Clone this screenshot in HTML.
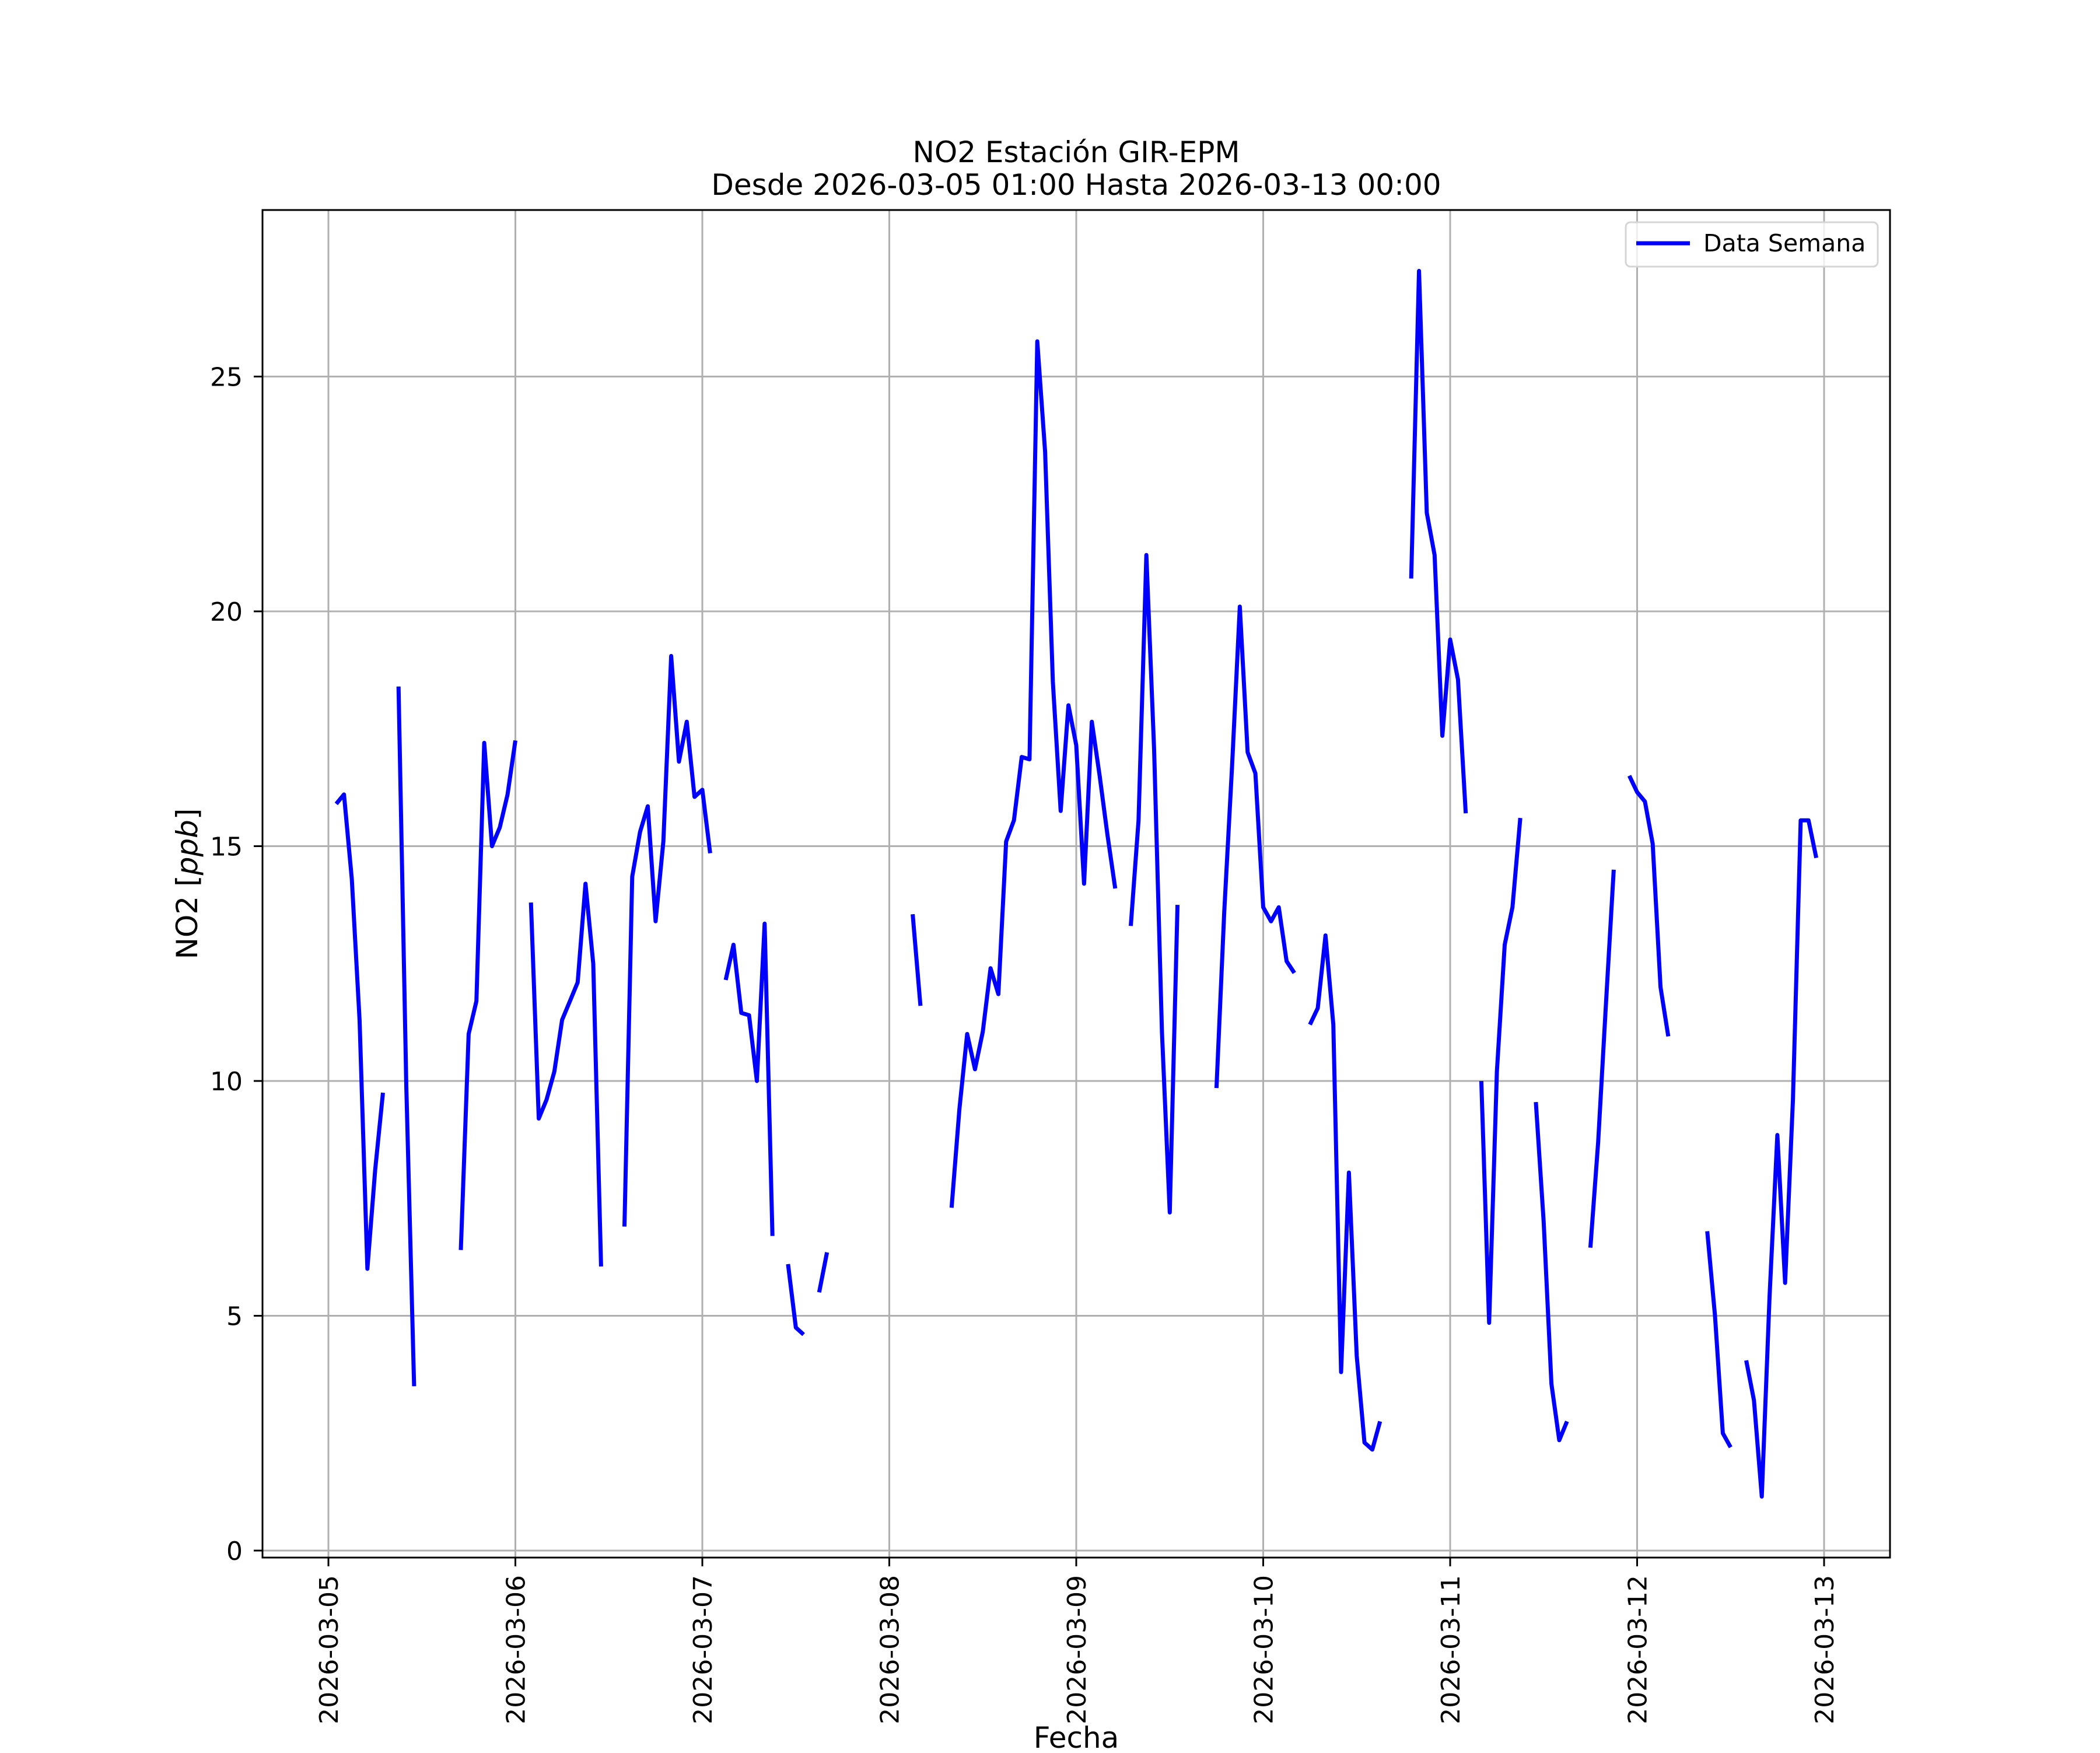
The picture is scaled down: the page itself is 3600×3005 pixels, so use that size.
<!DOCTYPE html>
<html><head><meta charset="utf-8"><style>
html,body{margin:0;padding:0;background:#fff}
svg text{font-family:"DejaVu Sans","Liberation Sans",sans-serif}
</style></head><body>
<svg id="chart" xmlns="http://www.w3.org/2000/svg" width="3600" height="3000" viewBox="0 0 3600 3000">
<rect width="3600" height="3000" fill="#fff"/>
<g id="grid"></g>
<g id="series"></g>
<rect x="450" y="360" width="2790" height="2310" fill="none" stroke="#000" stroke-width="3"/>
<g id="ticks"></g>
<text x="1845" y="278" font-size="50" text-anchor="middle">NO2 Estación GIR-EPM</text>
<text x="1845" y="334" font-size="50" text-anchor="middle">Desde 2026-03-05 01:00 Hasta 2026-03-13 00:00</text>
<text transform="translate(338,1515) rotate(-90)" font-size="50" text-anchor="middle">NO2 [<tspan font-style="italic">ppb</tspan>]</text>
<text x="1845" y="2996" font-size="50" text-anchor="middle">Fecha</text>
<g>
<rect x="2787" y="381" width="432" height="76" rx="8" fill="#fff" fill-opacity="0.8" stroke="#d5d5d5" stroke-width="3"/>
<line x1="2805" y1="417" x2="2897" y2="417" stroke="#0000ff" stroke-width="7"/>
<text x="2920" y="431" font-size="41">Data Semana</text>
</g>
</svg>
<script>
const yTicks = [0, 5, 10, 15, 20, 25];
const xTickLabels = ["2026-03-05","2026-03-06","2026-03-07","2026-03-08","2026-03-09","2026-03-10","2026-03-11","2026-03-12","2026-03-13"];
// hourly values, hour 1 = 2026-03-05 01:00 ... hour 192 = 2026-03-13 00:00 ; null = missing
const no2Values = [
15.9,16.1,14.3,11.3,6.0,8.1,9.75,null,18.4,9.9,3.5,null,null,null,null,null,
6.4,11.0,11.7,17.2,15.0,15.4,16.1,17.25,null,13.8,9.2,9.6,10.2,11.3,11.7,12.1,
14.2,12.5,6.05,null,null,6.9,14.35,15.3,15.85,13.4,15.1,19.05,16.8,17.65,16.05,16.2,
14.85,null,12.15,12.9,11.45,11.4,10.0,13.35,6.7,null,6.1,4.75,4.6,null,5.5,6.35,
null,null,null,null,null,null,null,null,null,null,13.55,11.6,null,null,null,7.3,
9.4,11.0,10.25,11.05,12.4,11.85,15.1,15.55,16.9,16.85,25.75,23.4,18.5,15.75,18.0,17.15,
14.2,17.65,16.5,15.25,14.1,null,13.3,15.55,21.2,17.05,11.05,7.2,13.75,null,null,null,
null,9.85,13.6,16.7,20.1,17.0,16.55,13.7,13.4,13.7,12.55,12.3,null,11.2,11.55,13.1,
11.2,3.8,8.05,4.15,2.3,2.15,2.75,null,null,null,20.7,27.25,22.1,21.2,17.35,19.4,
18.55,15.7,null,10.0,4.85,10.2,12.9,13.7,15.6,null,9.55,7.0,3.55,2.35,2.75,null,
null,6.45,8.7,11.65,14.5,null,16.5,16.15,15.95,15.05,12.0,10.95,null,null,null,null,
6.8,5.0,2.5,2.2,null,4.05,3.2,1.15,5.4,8.85,5.7,9.6,15.55,15.55,14.75,null
];
const NS = "http://www.w3.org/2000/svg";
const X0 = 563, DAY = 320.5, Y0 = 2658, UNIT = 80.5;
function xScale(hours){ return X0 + hours / 24 * DAY; }
function yScale(v){ return Y0 - v * UNIT; }
const grid = document.getElementById('grid');
const ticks = document.getElementById('ticks');
function mk(tag, attrs){ const e = document.createElementNS(NS, tag); for (const k in attrs) e.setAttribute(k, attrs[k]); return e; }
yTicks.forEach(v => {
  const y = yScale(v);
  const g = mk('line', {x1:450, x2:3240, y1:y, y2:y, stroke:'#b0b0b0', 'stroke-width':3});
  
  
  grid.appendChild(g);
  const t = mk('line', {x1:435, x2:450, y1:y, y2:y, stroke:'#000', 'stroke-width':3});
  
  
  ticks.appendChild(t);
  const l = mk('text', {x:416, y:y+16, 'font-size':44, 'text-anchor':'end'});
  
  
  l.textContent = String(v);
  ticks.appendChild(l);
});
xTickLabels.forEach((lab, i) => {
  const x = xScale(i * 24);
  const g = mk('line', {x1:x, x2:x, y1:360, y2:2670, stroke:'#b0b0b0', 'stroke-width':3});
  
  
  grid.appendChild(g);
  const t = mk('line', {x1:x, x2:x, y1:2670, y2:2685, stroke:'#000', 'stroke-width':3});
  
  
  ticks.appendChild(t);
  const l = mk('text', {transform:`translate(${x+16},2700) rotate(-90)`, 'font-size':44, 'text-anchor':'end'});
  
  
  l.textContent = lab;
  ticks.appendChild(l);
});
const series = document.getElementById('series');
let seg = [];
function flush(){
  if (seg.length > 1) {
    const p = mk('polyline', {points: seg.join(' '), fill:'none', stroke:'#0000ff', 'stroke-width':7, 'stroke-linejoin':'round', 'stroke-linecap':'butt'});
    
    
    series.appendChild(p);
  }
  seg = [];
}
no2Values.forEach((v, i) => {
  if (v === null) { flush(); return; }
  seg.push(xScale(i + 1).toFixed(1) + ',' + yScale(v).toFixed(1));
});
flush();
</script>
</body></html>
